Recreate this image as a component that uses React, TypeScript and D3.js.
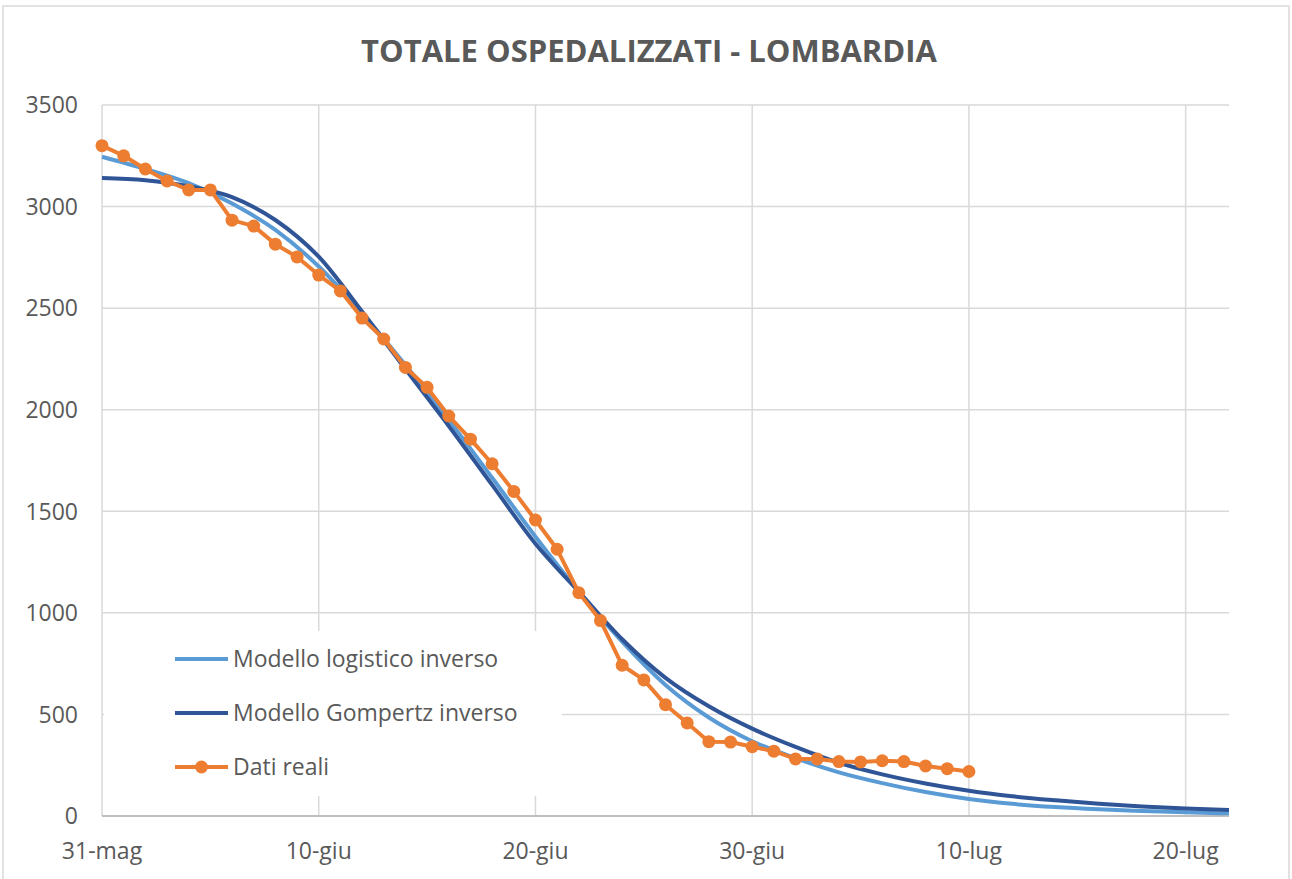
import React, { useRef, useEffect } from 'react';
import * as d3 from 'd3';

// Dati reali: one value per day starting 31-mag
const realData = [
  3300, 3250, 3185, 3126, 3082, 3082, 2933, 2904, 2815, 2752,
  2663, 2585, 2451, 2348, 2208, 2110, 1969, 1855, 1734, 1598,
  1457, 1313, 1099, 962, 742, 670, 548, 458, 366, 364,
  341, 319, 281, 281, 268, 266, 272, 268, 246, 233, 219,
];

// model curves read every 2 days
const modelDays = [0, 2, 4, 6, 8, 10, 12, 14, 16, 18, 20, 22, 24, 26, 28, 30, 32, 34, 36, 38, 40, 42, 44, 46, 48, 50, 52];
const logistic = [3245, 3185, 3115, 3015, 2885, 2705, 2475, 2220, 1950, 1665, 1375, 1105, 858, 645, 485, 368, 285, 215, 162, 118, 84, 60, 44, 33, 25, 18, 13];
const gompertz = [3141, 3130, 3100, 3046, 2934, 2753, 2483, 2200, 1920, 1630, 1340, 1105, 870, 680, 540, 430, 340, 262, 205, 160, 124, 97, 77, 60, 47, 37, 29];

const dayTicks = [0, 10, 20, 30, 40, 50];
const dayLabels = ['31-mag', '10-giu', '20-giu', '30-giu', '10-lug', '20-lug'];
const yTicks = [0, 500, 1000, 1500, 2000, 2500, 3000, 3500];

const seriesNames = ['Modello logistico inverso', 'Modello Gompertz inverso', 'Dati reali'];
const seriesColors = ['#5B9BD5', '#2F5597', '#ED7D31'];

const W = 1292;
const H = 879;
const FONT = '"Open Sans", sans-serif';

const Chart = () => {
  const ref = useRef(null);

  useEffect(() => {
    const svg = d3.select(ref.current);
    svg.selectAll('*').remove();

    const x = d3.scaleLinear().domain([0, 52]).range([102, 1229]);
    const y = d3.scaleLinear().domain([0, 3500]).range([816, 105]);

    // chart frame
    svg.append('rect')
      .attr('x', 3).attr('y', 6)
      .attr('width', 1286).attr('height', 880)
      .attr('fill', '#fff')
      .attr('stroke', '#d9d9d9')
      .attr('stroke-width', 1.5);

    svg.append('text')
      .attr('x', 649).attr('y', 62)
      .attr('text-anchor', 'middle')
      .attr('font-family', FONT)
      .attr('font-weight', 700)
      .attr('font-size', 31)
      .attr('fill', '#595959')
      .text('TOTALE OSPEDALIZZATI - LOMBARDIA');

    // gridlines
    const grid = svg.append('g').attr('stroke', '#d9d9d9').attr('stroke-width', 1.5);
    grid.selectAll('.hy')
      .data(yTicks.filter(d => d > 0))
      .enter().append('line')
      .attr('x1', x(0)).attr('x2', x(52))
      .attr('y1', d => y(d)).attr('y2', d => y(d));
    grid.selectAll('.vx')
      .data(dayTicks)
      .enter().append('line')
      .attr('x1', d => x(d)).attr('x2', d => x(d))
      .attr('y1', y(3500)).attr('y2', y(0));

    svg.append('line')
      .attr('x1', x(0)).attr('x2', x(52))
      .attr('y1', y(0)).attr('y2', y(0))
      .attr('stroke', '#bfbfbf')
      .attr('stroke-width', 2);

    // axis labels
    svg.append('g').selectAll('text')
      .data(yTicks)
      .enter().append('text')
      .attr('x', 78).attr('y', d => y(d))
      .attr('dy', '0.36em')
      .attr('text-anchor', 'end')
      .attr('font-family', FONT)
      .attr('font-size', 23)
      .attr('fill', '#595959')
      .text(d => d);

    svg.append('g').selectAll('text')
      .data(dayTicks)
      .enter().append('text')
      .attr('x', d => x(d)).attr('y', 859)
      .attr('text-anchor', 'middle')
      .attr('font-family', FONT)
      .attr('font-size', 23)
      .attr('fill', '#595959')
      .text((d, i) => dayLabels[i]);

    // model lines
    const modelLine = d3.line()
      .x((d, i) => x(modelDays[i]))
      .y(d => y(d))
      .curve(d3.curveMonotoneX);

    svg.append('path')
      .datum(logistic)
      .attr('d', modelLine)
      .attr('fill', 'none')
      .attr('stroke', seriesColors[0])
      .attr('stroke-width', 4);

    svg.append('path')
      .datum(gompertz)
      .attr('d', modelLine)
      .attr('fill', 'none')
      .attr('stroke', seriesColors[1])
      .attr('stroke-width', 4);

    // real data
    const realLine = d3.line()
      .x((d, i) => x(i))
      .y(d => y(d));

    svg.append('path')
      .datum(realData)
      .attr('d', realLine)
      .attr('fill', 'none')
      .attr('stroke', seriesColors[2])
      .attr('stroke-width', 4)
      .attr('stroke-linejoin', 'round');

    svg.append('g').selectAll('circle')
      .data(realData)
      .enter().append('circle')
      .attr('cx', (d, i) => x(i))
      .attr('cy', d => y(d))
      .attr('r', 6.5)
      .attr('fill', seriesColors[2]);

    // legend
    const legend = svg.append('g');
    legend.append('rect')
      .attr('x', 104).attr('y', 631)
      .attr('width', 458).attr('height', 165)
      .attr('fill', '#fff');

    const items = legend.selectAll('.item')
      .data(seriesNames)
      .enter().append('g')
      .attr('transform', (d, i) => `translate(175, ${659 + i * 54})`);

    items.append('line')
      .attr('x1', 0).attr('x2', 53)
      .attr('stroke', (d, i) => seriesColors[i])
      .attr('stroke-width', 4);

    items.filter((d, i) => i === 2)
      .append('circle')
      .attr('cx', 26.5).attr('r', 6.5)
      .attr('fill', seriesColors[2]);

    items.append('text')
      .attr('x', 58)
      .attr('dy', '0.36em')
      .attr('font-family', FONT)
      .attr('font-size', 23)
      .attr('fill', '#595959')
      .text(d => d);
  }, []);

  return <svg ref={ref} width={W} height={H} style={{ position: 'absolute', left: 0, top: 0 }}></svg>;
};

export default function App() {
  return <Chart />;
}
